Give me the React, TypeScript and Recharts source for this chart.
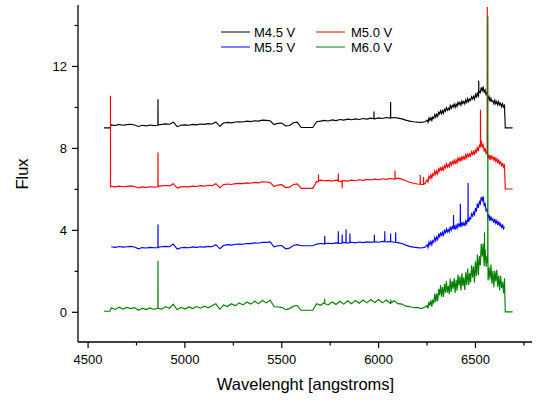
import React from 'react';
import { LineChart, Line, XAxis, YAxis, Label } from 'recharts';

const FONT = "Arial, 'Liberation Sans', sans-serif";

const WAVELENGTHS = [
  4620, 4640, 4660, 4680, 4700, 4720, 4740, 4760, 4780, 4800,
  4820, 4840, 4860, 4880, 4900, 4920, 4940, 4960, 4980, 5000,
  5020, 5040, 5060, 5080, 5100, 5120, 5140, 5160, 5180, 5200,
  5220, 5240, 5260, 5280, 5300, 5320, 5340, 5360, 5380, 5400,
  5420, 5440, 5460, 5480, 5500, 5520, 5540, 5560, 5580, 5600,
  5620, 5640, 5660, 5680, 5700, 5720, 5740, 5760, 5780, 5800,
  5820, 5840, 5860, 5880, 5900, 5920, 5940, 5960, 5980, 6000,
  6020, 6040, 6060, 6080, 6100, 6120, 6140, 6160, 6180, 6200,
  6220, 6240,
  6250, 6255, 6260, 6265, 6270, 6275, 6280, 6285, 6290, 6295,
  6300, 6305, 6310, 6315, 6320, 6325, 6330, 6335, 6340, 6345,
  6350, 6355, 6360, 6365, 6370, 6375, 6380, 6385, 6390, 6395,
  6400, 6405, 6410, 6415, 6420, 6425, 6430, 6435, 6440, 6445,
  6450, 6455, 6460, 6465, 6470, 6475, 6480, 6485, 6490, 6495,
  6500, 6505, 6510, 6515, 6520, 6525, 6530, 6535, 6540, 6545,
  6550, 6555, 6560, 6565, 6570, 6575, 6580, 6585, 6590, 6595,
  6600, 6605, 6610, 6615, 6620, 6625, 6630, 6635, 6640, 6645,
  6650,
];

const M45_FLUX = [
  9.15, 9.12, 9.17, 9.13, 9.16, 9.18, 9.14, 9.07, 9.13, 9.10,
  9.14, 9.11, 9.13, 9.17, 9.20, 9.18, 9.28, 9.06, 9.13, 9.15,
  9.13, 9.17, 9.15, 9.19, 9.17, 9.21, 9.19, 9.29, 9.08, 9.24,
  9.27, 9.25, 9.29, 9.30, 9.29, 9.33, 9.31, 9.35, 9.33, 9.38,
  9.37, 9.35, 9.16, 9.22, 9.24, 9.10, 9.12, 9.25, 9.28, 9.02,
  9.02, 9.02, 9.02, 9.30, 9.33, 9.37, 9.34, 9.39, 9.36, 9.41,
  9.38, 9.43, 9.40, 9.44, 9.41, 9.46, 9.43, 9.48, 9.44, 9.49,
  9.46, 9.51, 9.48, 9.51, 9.48, 9.44, 9.38, 9.33, 9.30, 9.28,
  9.27, 9.30,
  9.38, 9.27, 9.48, 9.37, 9.51, 9.37, 9.53, 9.47, 9.65, 9.52,
  9.67, 9.56, 9.76, 9.68, 9.84, 9.69, 9.84, 9.72, 9.91, 9.82,
  9.98, 9.86, 9.96, 9.88, 10.09, 9.95, 10.10, 10.02, 10.16, 10.00,
  10.16, 10.05, 10.25, 10.14, 10.25, 10.11, 10.31, 10.19, 10.29, 10.17,
  10.37, 10.25, 10.43, 10.28, 10.41, 10.34, 10.52, 10.41, 10.54, 10.40,
  10.63, 10.48, 10.74, 10.55, 10.78, 10.72, 10.98, 10.82, 11.02, 10.72,
  10.85, 10.63, 10.72, 10.41, 10.53, 10.29, 10.45, 10.29, 10.33, 10.18,
  10.35, 10.18, 10.29, 10.12, 10.28, 10.12, 10.20, 10.03, 10.18, 10.02,
  10.10,
];

const M50_FLUX = [
  6.15, 6.12, 6.16, 6.13, 6.15, 6.17, 6.14, 6.07, 6.12, 6.10,
  6.13, 6.11, 6.13, 6.17, 6.19, 6.17, 6.28, 6.06, 6.12, 6.14,
  6.12, 6.16, 6.14, 6.18, 6.16, 6.20, 6.18, 6.28, 6.08, 6.23,
  6.26, 6.24, 6.28, 6.29, 6.28, 6.32, 6.30, 6.34, 6.32, 6.37,
  6.36, 6.33, 6.15, 6.21, 6.23, 6.09, 6.11, 6.24, 6.27, 6.05,
  6.05, 6.05, 6.05, 6.38, 6.45, 6.42, 6.44, 6.40, 6.45, 6.38,
  6.43, 6.40, 6.45, 6.42, 6.47, 6.44, 6.49, 6.46, 6.50, 6.47,
  6.52, 6.49, 6.53, 6.50, 6.55, 6.50, 6.42, 6.35, 6.30, 6.26,
  6.24, 6.28,
  6.47, 6.36, 6.64, 6.53, 6.72, 6.56, 6.76, 6.68, 6.89, 6.73,
  6.90, 6.76, 7.01, 6.90, 7.09, 6.90, 7.08, 6.94, 7.16, 7.05,
  7.24, 7.09, 7.20, 7.10, 7.35, 7.18, 7.35, 7.25, 7.42, 7.23,
  7.43, 7.29, 7.53, 7.39, 7.54, 7.37, 7.61, 7.46, 7.60, 7.45,
  7.69, 7.55, 7.76, 7.56, 7.73, 7.63, 7.84, 7.71, 7.85, 7.68,
  7.95, 7.77, 8.08, 7.87, 8.15, 8.08, 8.38, 8.08, 8.18, 7.85,
  8.01, 7.75, 7.85, 7.51, 7.69, 7.44, 7.67, 7.50, 7.59, 7.39,
  7.59, 7.37, 7.49, 7.27, 7.46, 7.25, 7.33, 7.12, 7.29, 7.09,
  7.18,
];

const M55_FLUX = [
  3.20, 3.17, 3.21, 3.18, 3.20, 3.22, 3.19, 3.10, 3.16, 3.14,
  3.17, 3.15, 3.16, 3.20, 3.22, 3.20, 3.33, 3.09, 3.15, 3.17,
  3.15, 3.19, 3.17, 3.20, 3.18, 3.22, 3.20, 3.30, 3.10, 3.26,
  3.30, 3.28, 3.32, 3.33, 3.32, 3.36, 3.35, 3.39, 3.37, 3.42,
  3.41, 3.44, 3.20, 3.25, 3.26, 3.10, 3.13, 3.26, 3.30, 3.25,
  3.25, 3.25, 3.25, 3.33, 3.36, 3.34, 3.37, 3.35, 3.39, 3.36,
  3.41, 3.38, 3.42, 3.39, 3.43, 3.40, 3.44, 3.41, 3.45, 3.42,
  3.46, 3.43, 3.46, 3.42, 3.40, 3.36, 3.28, 3.22, 3.18, 3.16,
  3.14, 3.18,
  3.29, 3.16, 3.42, 3.29, 3.46, 3.30, 3.50, 3.43, 3.65, 3.50,
  3.68, 3.55, 3.80, 3.70, 3.90, 3.72, 3.91, 3.77, 3.99, 3.88,
  4.07, 3.92, 4.03, 3.93, 4.18, 4.01, 4.18, 4.08, 4.25, 4.04,
  4.24, 4.10, 4.34, 4.19, 4.33, 4.16, 4.40, 4.24, 4.37, 4.22,
  4.46, 4.32, 4.57, 4.41, 4.61, 4.55, 4.80, 4.70, 4.88, 4.76,
  5.08, 4.91, 5.31, 5.10, 5.40, 5.30, 5.62, 5.46, 5.66, 5.22,
  5.30, 4.95, 5.03, 4.59, 4.77, 4.46, 4.68, 4.49, 4.56, 4.37,
  4.56, 4.35, 4.47, 4.25, 4.44, 4.24, 4.32, 4.11, 4.29, 4.08,
  4.18,
];

const M60_FLUX = [
  0.22, 0.14, 0.25, 0.16, 0.24, 0.18, 0.23, 0.10, 0.20, 0.13,
  0.21, 0.14, 0.20, 0.16, 0.28, 0.20, 0.40, 0.12, 0.24, 0.16,
  0.26, 0.18, 0.28, 0.20, 0.30, 0.22, 0.32, 0.42, 0.14, 0.36,
  0.28, 0.42, 0.32, 0.46, 0.36, 0.50, 0.40, 0.54, 0.42, 0.58,
  0.46, 0.60, 0.28, 0.26, 0.24, 0.13, 0.18, 0.30, 0.33, 0.10,
  0.10, 0.10, 0.10, 0.42, 0.34, 0.48, 0.36, 0.50, 0.38, 0.54,
  0.40, 0.56, 0.42, 0.58, 0.44, 0.60, 0.46, 0.62, 0.48, 0.62,
  0.46, 0.60, 0.44, 0.56, 0.42, 0.40, 0.30, 0.28, 0.22, 0.24,
  0.18, 0.26,
  0.32, 0.19, 0.51, 0.33, 0.59, 0.28, 0.62, 0.44, 0.91, 0.50,
  0.92, 0.54, 1.14, 0.83, 1.33, 0.76, 1.23, 0.75, 1.39, 0.96,
  1.51, 0.96, 1.29, 0.88, 1.65, 0.99, 1.53, 1.15, 1.66, 0.94,
  1.58, 1.05, 1.84, 1.30, 1.76, 1.07, 1.90, 1.28, 1.71, 1.09,
  1.95, 1.34, 2.14, 1.33, 1.91, 1.46, 2.30, 1.70, 2.25, 1.45,
  2.48, 1.79, 2.82, 1.82, 2.74, 2.29, 3.34, 2.71, 3.36, 2.25,
  3.08, 2.23, 2.76, 1.55, 2.20, 1.60, 2.33, 1.40, 2.01, 1.22,
  2.03, 1.50, 2.07, 1.24, 1.79, 1.08, 1.78, 1.19, 1.49, 0.93,
  1.66,
];

// [wavelength, flux] points at the ends of each spectrum
const M45_EDGES = [[4582, 9.0], [4613, 9.0], [6654, 9.0], [6692, 9.0]];
const M50_EDGES = [[4615.5, 10.57], [4616, 6.12], [6654, 6.02], [6692, 6.02]];
const M55_EDGES: number[][] = [];
const M60_EDGES = [[4582, 0.05], [4613, 0.05], [6654, 0.02], [6692, 0.02]];

// [wavelength, flux before, peak flux, flux after]
const M45_SPIKES = [
  [4861, 9.13, 10.4, 9.15],
  [5976, 9.45, 9.8, 9.45],
  [6062, 9.48, 10.27, 9.48],
  [6517, 10.6, 11.3, 10.7],
];
const M50_SPIKES = [
  [4861, 6.13, 7.8, 6.15],
  [5690, 6.38, 6.72, 6.42],
  [5792, 6.44, 6.78, 6.4],
  [5812, 6.4, 6.05, 6.42],
  [6085, 6.5, 6.92, 6.52],
  [6215, 6.25, 6.7, 6.25],
  [6232, 6.24, 6.6, 6.26],
  [6526, 8.05, 9.89, 8.1],
  [6561, 7.8, 14.9, 7.8],
];
const M55_SPIKES = [
  [4861, 3.16, 4.28, 3.17],
  [5722, 3.34, 3.74, 3.35],
  [5792, 3.38, 3.95, 3.37],
  [5812, 3.38, 3.8, 3.4],
  [5832, 3.39, 4.05, 3.39],
  [5852, 3.41, 3.85, 3.41],
  [5978, 3.44, 3.8, 3.44],
  [6032, 3.45, 3.95, 3.44],
  [6062, 3.45, 3.85, 3.45],
  [6088, 3.42, 3.9, 3.42],
  [6387, 4.1, 4.75, 4.1],
  [6422, 4.3, 5.3, 4.25],
  [6462, 4.5, 6.31, 4.5],
];
const M60_SPIKES = [
  [4861, 0.18, 2.52, 0.2],
  [5722, 0.4, 0.66, 0.42],
  [6063, 0.45, 0.62, 0.45],
  [6547, 2.6, 3.9, 2.6],
  [6564, 2.4, 14.45, 2.4],
];

const SERIES_NAMES = ['M4.5 V', 'M5.0 V', 'M5.5 V', 'M6.0 V'];
const SERIES_COLORS = ['#000000', '#ff0000', '#0000ff', '#008000'];

const X_TICKS = [4500, 4750, 5000, 5250, 5500, 5750, 6000, 6250, 6500, 6750];
const X_LABELS = [4500, 5000, 5500, 6000, 6500];
const Y_TICKS = [0, 2, 4, 6, 8, 10, 12, 14];
const Y_LABELS = [0, 4, 8, 12];
const X_DOMAIN = [4448, 6792];
const Y_DOMAIN = [-1.45, 15];

function buildSeries(values: number[], edges: number[][], spikes: number[][]) {
  const pts: { w: number; f: number }[] = WAVELENGTHS.map((w, i) => ({ w, f: values[i] }));
  edges.forEach(([w, f]) => pts.push({ w, f }));
  spikes.forEach(([w, b, p, a]) => {
    pts.push({ w: w - 0.5, f: b });
    pts.push({ w, f: p });
    pts.push({ w: w + 0.5, f: a });
  });
  pts.sort((a, b) => a.w - b.w);
  return pts;
}

const SERIES_DATA = [
  buildSeries(M45_FLUX, M45_EDGES, M45_SPIKES),
  buildSeries(M50_FLUX, M50_EDGES, M50_SPIKES),
  buildSeries(M55_FLUX, M55_EDGES, M55_SPIKES),
  buildSeries(M60_FLUX, M60_EDGES, M60_SPIKES),
];

const BottomTick = (props: any) => {
  const { x, y, payload } = props;
  const major = X_LABELS.includes(payload.value);
  return (
    <g>
      <line x1={x} x2={x} y1={y} y2={y + (major ? 6 : 3.5)} stroke="#000" strokeWidth={1.2} />
      {major && (
        <text x={x} y={y + 22} textAnchor="middle" fontSize={13} fill="#000" fontFamily={FONT}>
          {payload.value}
        </text>
      )}
    </g>
  );
};

const TopTick = (props: any) => {
  const { x, y, payload } = props;
  const major = X_LABELS.includes(payload.value);
  return <line x1={x} x2={x} y1={y} y2={y + (major ? 6 : 3.5)} stroke="#000" strokeWidth={1.2} />;
};

const LeftTick = (props: any) => {
  const { x, y, payload } = props;
  const major = Y_LABELS.includes(payload.value);
  return (
    <g>
      <line x1={x} x2={x - (major ? 6 : 3.5)} y1={y} y2={y} stroke="#000" strokeWidth={1.2} />
      {major && (
        <text x={x - 11} y={y + 4.7} textAnchor="end" fontSize={13} fill="#000" fontFamily={FONT}>
          {payload.value}
        </text>
      )}
    </g>
  );
};

const RightTick = (props: any) => {
  const { x, y, payload } = props;
  const major = Y_LABELS.includes(payload.value);
  return <line x1={x} x2={x - (major ? 6 : 3.5)} y1={y} y2={y} stroke="#000" strokeWidth={1.2} />;
};

const axisLine = { stroke: '#000', strokeWidth: 1.3 };

const LEGEND_POS = [
  { lx: 221, tx: 254, y: 32 },
  { lx: 316, tx: 351, y: 32 },
  { lx: 221, tx: 254, y: 47 },
  { lx: 316, tx: 351, y: 47 },
];

export default function App() {
  return (
    <div style={{ position: 'absolute', left: 0, top: 0, width: 538, height: 401, background: '#fff' }}>
      <LineChart width={538} height={401} margin={{ top: 5, right: 6, bottom: 0, left: 0 }}>
        <XAxis
          xAxisId="b"
          dataKey="w"
          type="number"
          domain={X_DOMAIN}
          allowDataOverflow
          ticks={X_TICKS}
          interval={0}
          height={59}
          tickSize={0}
          tickMargin={0}
          tickLine={false}
          axisLine={axisLine}
          tick={<BottomTick />}
        >
          <Label
            content={() => (
              <text x={305.5} y={390} textAnchor="middle" fontSize={16.5} fill="#000" fontFamily={FONT}>
                Wavelenght [angstroms]
              </text>
            )}
          />
        </XAxis>
        <XAxis
          xAxisId="t"
          orientation="top"
          type="number"
          domain={X_DOMAIN}
          allowDataOverflow
          ticks={X_TICKS}
          interval={0}
          height={0}
          tickSize={0}
          tickMargin={0}
          tickLine={false}
          axisLine={axisLine}
          tick={<TopTick />}
        />
        <YAxis
          yAxisId="l"
          type="number"
          domain={Y_DOMAIN}
          allowDataOverflow
          ticks={Y_TICKS}
          interval={0}
          width={78}
          tickSize={0}
          tickMargin={0}
          tickLine={false}
          axisLine={axisLine}
          tick={<LeftTick />}
        >
          <Label
            content={() => (
              <text
                x={28}
                y={174}
                transform="rotate(-90 28 174)"
                textAnchor="middle"
                fontSize={16.5}
                fill="#000"
                fontFamily={FONT}
              >
                Flux
              </text>
            )}
          />
        </YAxis>
        <YAxis
          yAxisId="r"
          orientation="right"
          type="number"
          domain={Y_DOMAIN}
          allowDataOverflow
          ticks={Y_TICKS}
          interval={0}
          width={0}
          tickSize={0}
          tickMargin={0}
          tickLine={false}
          axisLine={axisLine}
          tick={<RightTick />}
        />
        {SERIES_DATA.map((d, i) => (
          <Line
            key={SERIES_NAMES[i]}
            xAxisId="b"
            yAxisId="l"
            data={d}
            dataKey="f"
            type="linear"
            stroke={SERIES_COLORS[i]}
            strokeWidth={1.15}
            dot={false}
            activeDot={false}
            isAnimationActive={false}
          />
        ))}
      </LineChart>
      <svg
        width={538}
        height={70}
        style={{ position: 'absolute', left: 0, top: 0, pointerEvents: 'none' }}
      >
        {SERIES_NAMES.map((name, i) => (
          <g key={name}>
            <line
              x1={LEGEND_POS[i].lx}
              x2={LEGEND_POS[i].lx + 29}
              y1={LEGEND_POS[i].y}
              y2={LEGEND_POS[i].y}
              stroke={SERIES_COLORS[i]}
              strokeWidth={1}
            />
            <text x={LEGEND_POS[i].tx} y={LEGEND_POS[i].y + 4.6} fontSize={13} fill="#000" fontFamily={FONT}>
              {name}
            </text>
          </g>
        ))}
      </svg>
    </div>
  );
}
